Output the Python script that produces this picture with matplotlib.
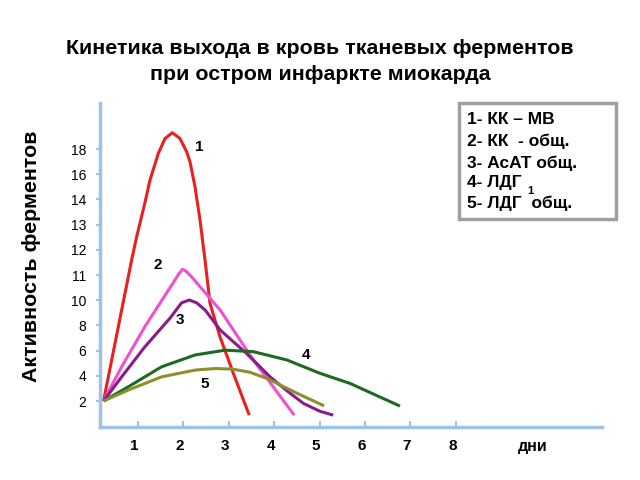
import numpy as np
import matplotlib
matplotlib.use("Agg")
import matplotlib.pyplot as plt
from matplotlib.patches import Rectangle
from matplotlib.transforms import ScaledTranslation

plt.rcParams['font.family'] = ['Liberation Sans', 'DejaVu Sans']

# days / tick-position units
days = [1, 2, 3, 4, 5, 6, 7, 8]
ylabels = ['2', '4', '6', '8', '10', '11', '12', '13', '14', '16', '18']

# 1 - KK-MB
kk_mb_x = [0.24, 0.86, 0.97, 1.15, 1.264, 1.447, 1.595, 1.756, 1.925, 2.073, 2.145, 2.256,
           2.366, 2.476, 2.586, 2.806, 3.10, 3.45]
kk_mb_y = [1.0, 6.60, 7.52, 8.85, 9.77, 10.83, 11.42, 11.65, 11.42, 10.89, 10.50, 9.50,
           8.18, 6.60, 4.88, 3.55, 2.10, 0.44]
# 2 - KK total
kk_x = [0.24, 0.64, 1.15, 1.67, 1.90, 1.98, 2.06, 2.18, 2.81, 3.54, 4.44]
kk_y = [1.0, 2.36, 3.95, 5.40, 6.05, 6.23, 6.15, 5.93, 4.61, 2.63, 0.44]
# 3 - AsAT
asat_x = [0.24, 0.64, 1.15, 1.70, 1.96, 2.13, 2.29, 2.48, 2.81, 3.39, 3.91, 4.30, 4.64, 5.00, 5.30]
asat_y = [1.0, 1.96, 3.15, 4.28, 4.90, 5.01, 4.90, 4.61, 3.82, 2.89, 1.96, 1.38, 0.91, 0.60, 0.44]
# 4 - LDG1
ldg1_x = [0.24, 0.79, 1.52, 2.26, 2.92, 3.54, 4.28, 5.01, 5.67, 6.77]
ldg1_y = [1.0, 1.57, 2.36, 2.83, 3.02, 2.96, 2.63, 2.10, 1.70, 0.80]
# 5 - LDG total
ldg_x = [0.24, 0.79, 1.52, 2.26, 2.70, 3.07, 3.45, 3.84, 4.50, 5.10]
ldg_y = [1.0, 1.44, 1.96, 2.23, 2.29, 2.27, 2.15, 1.90, 1.31, 0.81]

curves = [
    (kk_mb_x, kk_mb_y, '#E8201E', '1', (2.34, 11.08)),
    (kk_x, kk_y, '#F050D2', '2', (1.44, 6.40)),
    (asat_x, asat_y, '#8B1A8B', '3', (1.93, 4.20)),
    (ldg1_x, ldg1_y, '#1E6A1E', '4', (4.70, 2.83)),
    (ldg_x, ldg_y, '#8E8E2C', '5', (2.48, 1.67)),
]

axis_col = '#9DC3E6'

fig = plt.figure(figsize=(6.4, 4.8), dpi=100)
ax = fig.add_axes([100/640, 1-427/480, 502/640, 324/480])

for xs, ys, col, lab, pos in curves:
    ax.plot(xs, ys, color=col, lw=2.2, solid_joinstyle='round', solid_capstyle='butt')
    ax.text(pos[0], pos[1], lab, fontsize=11, fontweight='bold', ha='center', va='center')

ax.set_xlim(0.163, 11.22)
ax.set_ylim(-0.03, 12.83)

ax.set_xticks(days)
ax.set_xticklabels([str(d) for d in days], fontsize=11, fontweight='bold')
ax.set_yticks(range(1, len(ylabels) + 1))
ax.set_yticklabels(ylabels, fontsize=10)
ax.tick_params(axis='x', direction='in', length=4, color=axis_col, width=1.5, pad=9)
ax.tick_params(axis='y', direction='out', length=3, color=axis_col, width=1.5, pad=7)
shift = ScaledTranslation(-0.035, 0, fig.dpi_scale_trans)
for lab in ax.get_xticklabels():
    lab.set_transform(lab.get_transform() + shift)

for s in ['top', 'right']:
    ax.spines[s].set_visible(False)
for s in ['left', 'bottom']:
    ax.spines[s].set_color(axis_col)
    ax.spines[s].set_linewidth(2.5)

fig.text(533/640, 1-446/480, 'дни', fontsize=11.5, fontweight='bold', ha='center', va='center')

fig.text(0.5, 1-49/480, 'Кинетика выхода в кровь тканевых ферментов', fontsize=15.4,
         fontweight='bold', ha='center', va='center')
fig.text(0.5, 1-75/480, 'при остром инфаркте миокарда', fontsize=15.4,
         fontweight='bold', ha='center', va='center')

fig.text(32/640, 1-256/480, 'Активность ферментов', fontsize=15.4, fontweight='bold',
         rotation=90, ha='center', va='center')

# legend box
fig.patches.append(Rectangle((459/640, 1-219/480), 157/640, 116/480, transform=fig.transFigure,
                             fill=False, edgecolor='#A0A0A0', lw=2.5))
legend_lines = ['1- КК – МВ', '2- КК  - общ.', '3- АсАТ общ.', '4- ЛДГ', '5- ЛДГ  общ.']
legend_y = [120, 141.5, 163, 183, 203]
for t, yy in zip(legend_lines, legend_y):
    fig.text(467/640, 1-yy/480, t, fontsize=12.5, fontweight='bold', ha='left', va='center')
fig.text(527/640, 1-191/480, '1', fontsize=8, fontweight='bold', ha='left', va='center')

fig.savefig('out.png', dpi=100)
